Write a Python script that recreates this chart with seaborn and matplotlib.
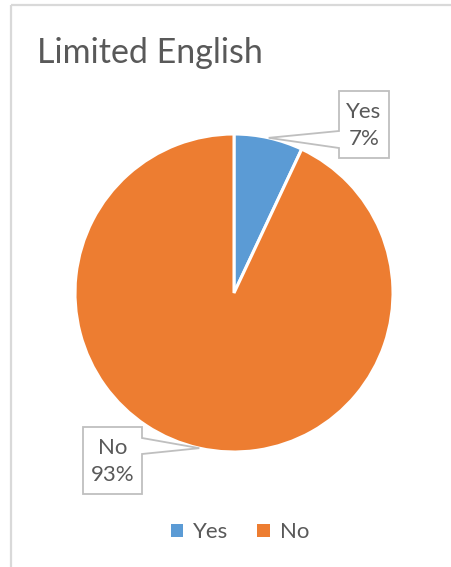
import numpy as np
import matplotlib
matplotlib.use("Agg")
import matplotlib.pyplot as plt
from matplotlib.patches import Polygon, Patch, Rectangle
import seaborn as sns

# Survey answers: share of respondents with limited English
categories = ["Yes", "No"]
shares = [7, 93]
title_text = "Limited English"

sns.set_theme(style="white")
plt.rcParams["font.family"] = ["Lato", "DejaVu Sans"]
palette = sns.color_palette(["#5B9BD5", "#ED7D31"])
text_grey = "#595959"
frame_grey = "#D9D9D9"
callout_grey = "#BFBFBF"

W, H = 451, 567
fig = plt.figure(figsize=(W / 100, H / 100), dpi=100)
fig.patch.set_facecolor("white")

# Overlay in pixel units for the frame, title and callouts
ov = fig.add_axes([0, 0, 1, 1], zorder=3)
ov.set_xlim(0, W)
ov.set_ylim(H, 0)
ov.axis("off")
ov.patch.set_alpha(0)

# Chart area border (runs off the right and bottom edges)
ov.add_patch(Rectangle((11, 5), W + 20, H + 20, fill=False,
                       edgecolor=frame_grey, linewidth=1.6))

# Pie axes: square box so the circle stays round
cx, cy, r = 234, 293, 159
ax = fig.add_axes([(cx - r) / W, (H - cy - r) / H, 2 * r / W, 2 * r / H], zorder=2)
wedges, _ = ax.pie(shares, colors=palette, startangle=90, counterclock=False,
                   radius=1.0, wedgeprops=dict(edgecolor="white", linewidth=2.2))
ax.set_xlim(-1, 1)
ax.set_ylim(-1, 1)
ax.set_aspect("equal")
ax.axis("off")

ov.text(37, 63, title_text, fontsize=24.5, color=text_grey, ha="left",
        va="baseline")

def to_overlay(pt):
    pix = ax.transData.transform(pt)
    return ov.transData.inverted().transform(pix)

# Callout boxes: (left, top, width, height), pointer side
boxes = {
    "Yes": (339, 91, 50, 67, "left", (131, 148)),
    "No": (83, 427, 59, 67, "right", (438, 454)),
}

total = sum(shares)
start = 90.0
for cat, val, w in zip(categories, shares, wedges):
    frac = val / total
    mid = np.deg2rad(start - 360 * frac / 2)
    start -= 360 * frac
    tip = to_overlay((np.cos(mid), np.sin(mid)))
    x0, y0, bw, bh, side, (p0, p1) = boxes[cat]
    x1, y1 = x0 + bw, y0 + bh
    if side == "left":
        verts = [(x0, y0), (x1, y0), (x1, y1), (x0, y1), (x0, p1),
                 tuple(tip), (x0, p0)]
    else:
        verts = [(x0, y0), (x1, y0), (x1, p0), tuple(tip), (x1, p1),
                 (x1, y1), (x0, y1)]
    ov.add_patch(Polygon(verts, closed=True, facecolor="white",
                         edgecolor=callout_grey, linewidth=1.3, zorder=4))
    pct = f"{round(100 * frac)}%"
    ov.text(x0 + bw / 2, y0 + bh / 2 + 1, f"{cat}\n{pct}", ha="center",
            va="center", fontsize=16, color=text_grey, linespacing=1.42,
            zorder=5)

handles = [Patch(facecolor=c, edgecolor="none", label=l)
           for c, l in zip(palette, categories)]
leg = fig.legend(handles=handles, loc="center", bbox_to_anchor=(240 / W, 1 - 532.5 / H),
                 ncol=2, frameon=False, fontsize=16, handlelength=0.55,
                 handleheight=0.55, handletextpad=0.45, columnspacing=1.3,
                 labelcolor=text_grey)

fig.savefig("out.png", dpi=100, facecolor="white")
